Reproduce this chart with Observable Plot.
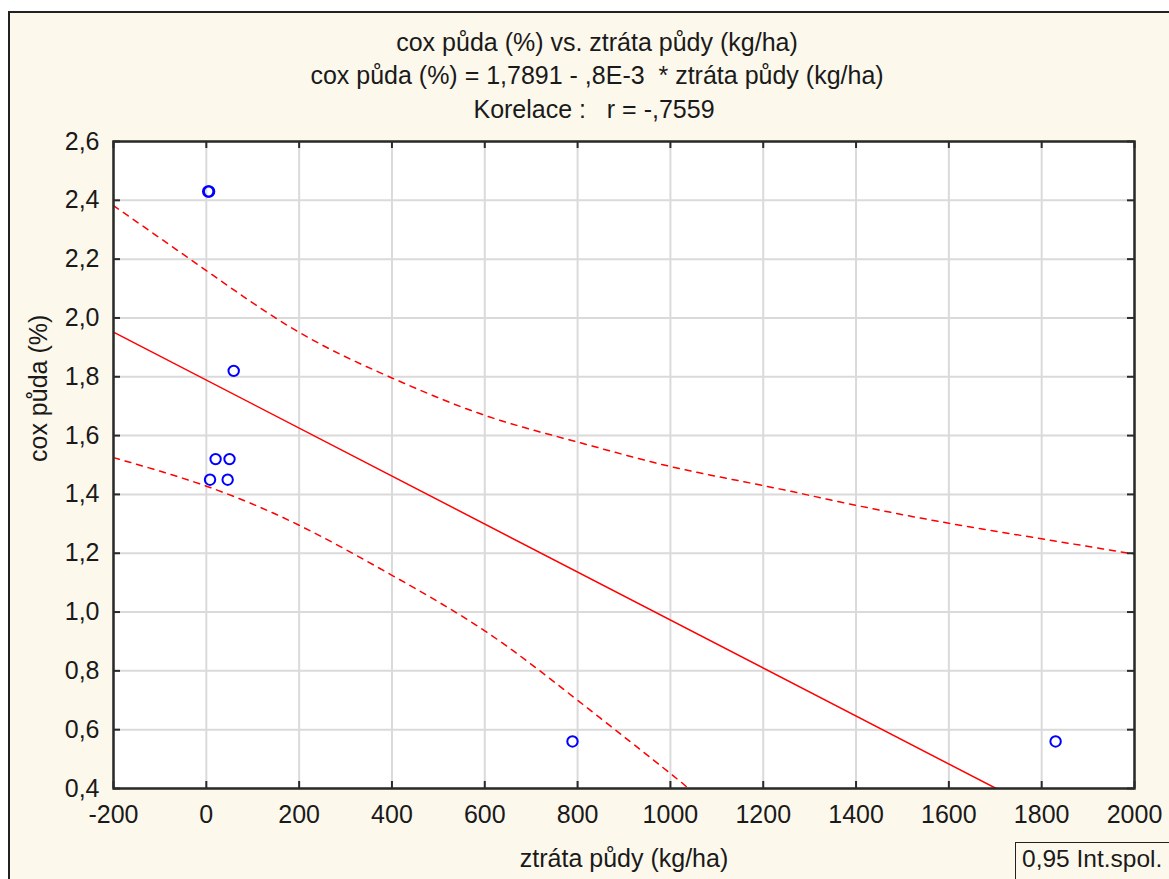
<!DOCTYPE html>
<html>
<head>
<meta charset="utf-8">
<script src="https://cdn.jsdelivr.net/npm/d3@7"></script>
<script src="https://cdn.jsdelivr.net/npm/@observablehq/plot@0.6"></script>
<style>
  body { margin: 0; background: #ffffff; font-family: "Liberation Sans", Arial, sans-serif; }
  #frame { position: absolute; left: 8px; top: 11px; width: 1180px; height: 890px;
           background: #fdf8ec; border: 2px solid #222; box-sizing: border-box; }
  #chart { position: absolute; left: 0; top: 0; }
  #legend { position: absolute; left: 1015px; top: 842px; width: 200px; height: 60px;
            border: 1.5px solid #222; background: #fdf8ec; box-sizing: border-box;
            font-size: 24.5px; color: #1a1a1a; padding: 2px 0 0 6px; line-height: 28px; }
</style>
</head>
<body>
<div id="frame"></div>
<div id="chart"></div>
<div id="legend">0,95 Int.spol.</div>
<script>
// ---- data ----
const lossX = [4, 6, 59, 20, 50, 8, 46, 789, 1830];           // ztráta půdy (kg/ha)
const coxY  = [2.43, 2.43, 1.82, 1.52, 1.52, 1.45, 1.45, 0.56, 0.56]; // cox půda (%)

const regX = [-200, 1702];
const regY = [1.952, 0.40];

const upperX = [-200, 0, 200, 400, 600, 800, 1000, 1200, 1400, 1600, 1800, 2000];
const upperY = [2.382, 2.161, 1.951, 1.796, 1.669, 1.578, 1.495, 1.430, 1.363, 1.302, 1.249, 1.197];

const lowerX = [-200, 0, 200, 400, 600, 800, 1000, 1037];
const lowerY = [1.525, 1.428, 1.295, 1.125, 0.936, 0.700, 0.451, 0.40];

const xTicks = [-200, 0, 200, 400, 600, 800, 1000, 1200, 1400, 1600, 1800, 2000];
const yTicks = [0.4, 0.6, 0.8, 1.0, 1.2, 1.4, 1.6, 1.8, 2.0, 2.2, 2.4, 2.6];

const titleLines = [
  "cox půda (%) vs. ztráta půdy (kg/ha)",
  "cox půda (%) = 1,7891 - ,8E-3  * ztráta půdy (kg/ha)",
  "Korelace :   r = -,7559"
];
const xLabel = "ztráta půdy (kg/ha)";
const yLabel = "cox půda (%)";

// ---- build tables ----
const points = lossX.map((x, i) => ({x, y: coxY[i]}));
const reg = regX.map((x, i) => ({x, y: regY[i]}));
const upper = upperX.map((x, i) => ({x, y: upperY[i]}));
const lower = lowerX.map((x, i) => ({x, y: lowerY[i]}));

const W = 1169, H = 879;
const mL = 113, mR = 35, mT = 141, mB = 91;
const plotW = W - mL - mR, plotH = H - mT - mB;
const red = "#ff0000", blue = "#0000ff", ink = "#1a1a1a";
const fs = 25;

const chart = Plot.plot({
  width: W, height: H,
  marginLeft: mL, marginRight: mR, marginTop: mT, marginBottom: mB,
  style: { background: "transparent", fontFamily: "'Liberation Sans', Arial, sans-serif", fontSize: fs + "px", color: ink },
  x: { domain: [-200, 2000] },
  y: { domain: [0.4, 2.6] },
  marks: [
    Plot.frame({ fill: "white" }),
    Plot.gridX(xTicks, { stroke: "#dadada", strokeOpacity: 1, strokeWidth: 2 }),
    Plot.gridY(yTicks, { stroke: "#dadada", strokeOpacity: 1, strokeWidth: 2 }),
    Plot.line(upper, { x: "x", y: "y", stroke: red, strokeWidth: 1.5, strokeDasharray: "6,6", curve: "natural", clip: true }),
    Plot.line(lower, { x: "x", y: "y", stroke: red, strokeWidth: 1.5, strokeDasharray: "6,6", curve: "natural", clip: true }),
    Plot.line(reg, { x: "x", y: "y", stroke: red, strokeWidth: 1.5, clip: true }),
    Plot.dot(points, { x: "x", y: "y", r: 5.2, stroke: blue, strokeWidth: 2, fill: "none" }),
    Plot.frame({ stroke: "#2a2a2a", strokeWidth: 2.5 }),
    // inward ticks on all four sides
    Plot.tickX(xTicks, { x: d => d, insetTop: plotH - 7, stroke: "#2a2a2a", strokeWidth: 2 }),
    Plot.tickX(xTicks, { x: d => d, insetBottom: plotH - 7, stroke: "#2a2a2a", strokeWidth: 2 }),
    Plot.tickY(yTicks, { y: d => d, insetRight: plotW - 7, stroke: "#2a2a2a", strokeWidth: 2 }),
    Plot.tickY(yTicks, { y: d => d, insetLeft: plotW - 7, stroke: "#2a2a2a", strokeWidth: 2 }),
    Plot.axisX(xTicks, { tickSize: 0, tickPadding: 17, tickFormat: d => String(d), label: null, fontSize: fs, fill: ink }),
    Plot.axisY(yTicks, { tickSize: 0, tickPadding: 14, tickFormat: d => d.toFixed(1).replace(".", ","), label: null, fontSize: fs, fill: ink }),
    // titles
    Plot.text([titleLines[0]], { text: d => d, frameAnchor: "top", dx: -27, dy: -99, lineAnchor: "middle", fontSize: fs, fill: ink }),
    Plot.text([titleLines[1]], { text: d => d, frameAnchor: "top", dx: -27, dy: -66, lineAnchor: "middle", fontSize: fs, fill: ink }),
    Plot.text([titleLines[2]], { text: d => d, frameAnchor: "top", dx: -30, dy: -32, lineAnchor: "middle", fontSize: fs, fill: ink }),
    // axis labels
    Plot.text([xLabel], { text: d => d, frameAnchor: "bottom", dy: 70, lineAnchor: "middle", fontSize: fs, fill: ink }),
    Plot.text([yLabel], { text: d => d, frameAnchor: "left", dx: -75, dy: -3, rotate: -90, lineAnchor: "middle", fontSize: fs, fill: ink })
  ]
});
document.getElementById("chart").appendChild(chart);
</script>
</body>
</html>
